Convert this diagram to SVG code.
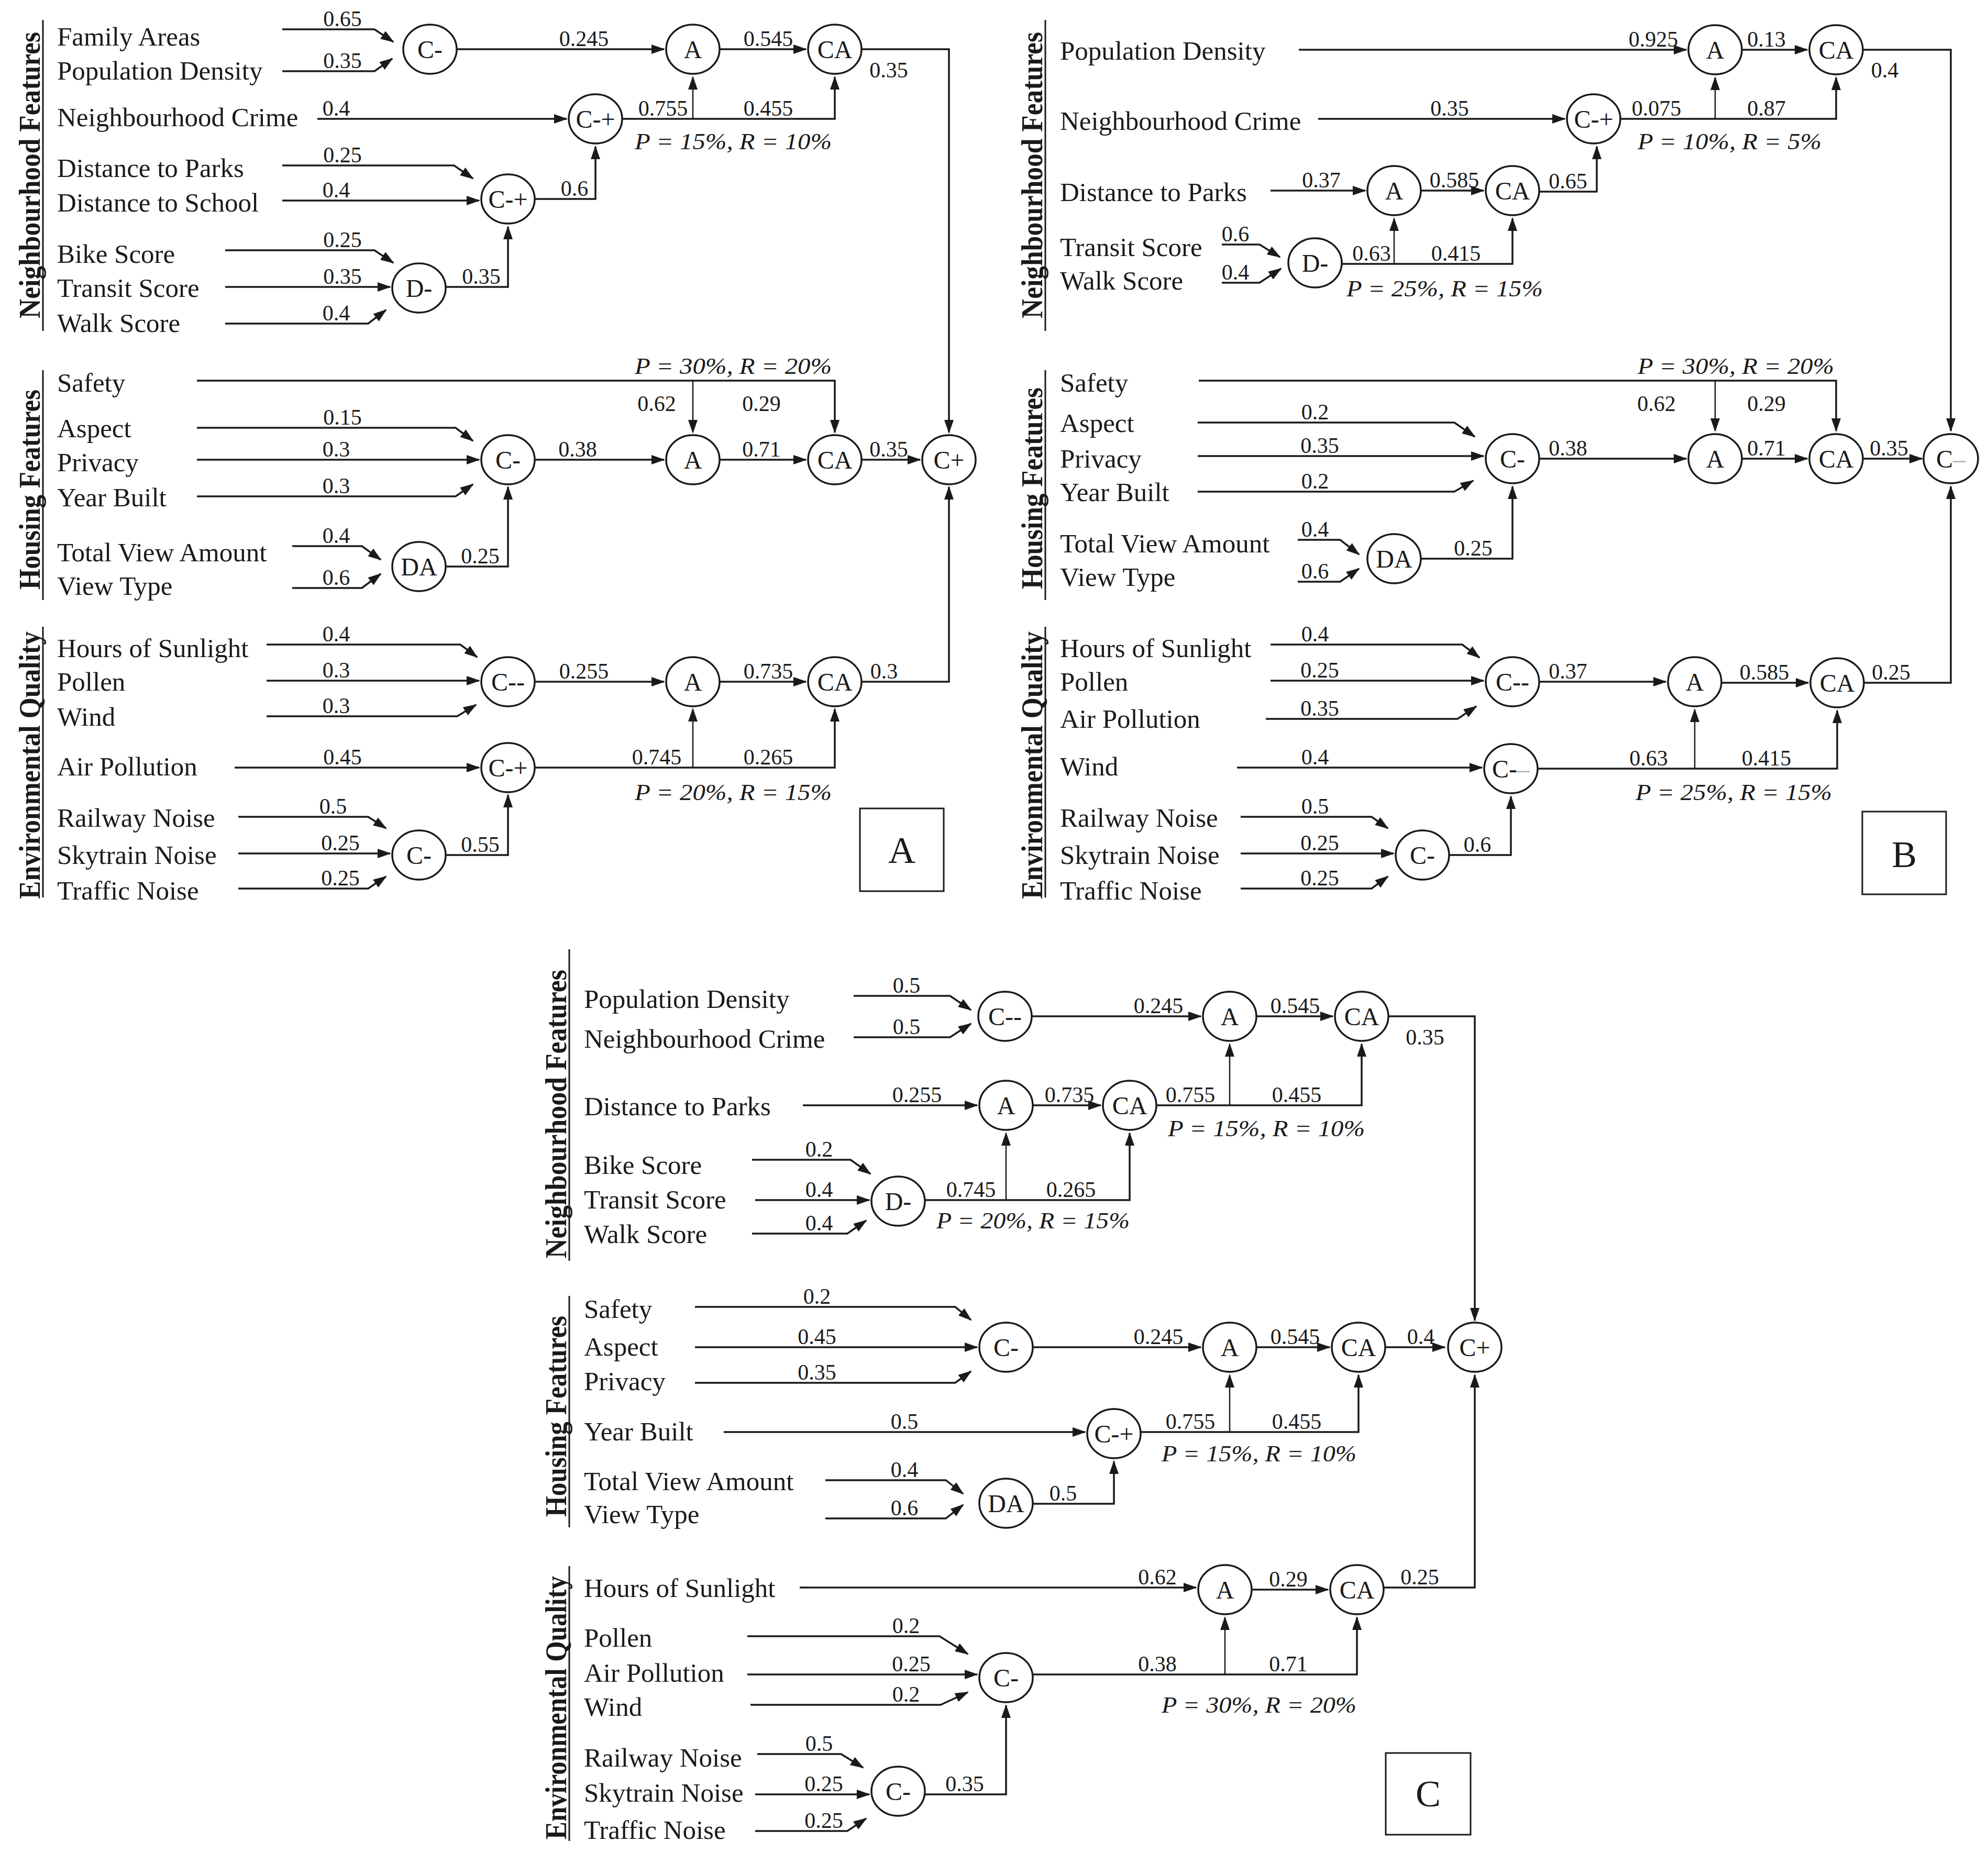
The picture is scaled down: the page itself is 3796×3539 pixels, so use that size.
<svg xmlns="http://www.w3.org/2000/svg" width="3796" height="3539" viewBox="0 0 3796 3539">
<defs>
<marker id="ah" markerUnits="userSpaceOnUse" markerWidth="26" markerHeight="18" refX="24" refY="9" orient="auto"><path d="M0,0 L26,9 L0,18 z" fill="#1a1a1a"/></marker>
<style>
text{font-family:"Liberation Serif","Times New Roman",serif;fill:#1a1a1a}
.f{font-size:51px}
.w{font-size:42px;text-anchor:middle}
.nt{font-size:48px;text-anchor:middle}
.p{font-size:44px;font-style:italic}
.s{font-size:57px;font-weight:bold}
.bl{font-size:72px;text-anchor:middle}
ellipse{fill:#fff;stroke:#1a1a1a;stroke-width:3.5}
.e{fill:none;stroke:#1a1a1a;stroke-width:3.5;marker-end:url(#ah)}
.t{fill:none;stroke:#1a1a1a;stroke-width:2.5;marker-end:url(#ah)}
.sep{stroke:#1a1a1a;stroke-width:3}
.box{fill:none;stroke:#1a1a1a;stroke-width:3}
.g{fill:#b0b0b0}
</style>
</defs>
<rect width="3796" height="3539" fill="#fff"/>

<g id="section-labels">
<line class="sep" x1="82" y1="38" x2="82" y2="632"/>
<line class="sep" x1="82" y1="707" x2="82" y2="1146"/>
<line class="sep" x1="82" y1="1197" x2="82" y2="1714"/>
<text class="s" transform="translate(76,335) rotate(-90)" x="-273" textLength="547" lengthAdjust="spacingAndGlyphs">Neighbourhood Features</text>
<text class="s" transform="translate(76,935) rotate(-90)" x="-191" textLength="382" lengthAdjust="spacingAndGlyphs">Housing Features</text>
<text class="s" transform="translate(76,1462) rotate(-90)" x="-255" textLength="511" lengthAdjust="spacingAndGlyphs">Environmental Quality</text>
<line class="sep" x1="1996" y1="38" x2="1996" y2="632"/>
<line class="sep" x1="1996" y1="707" x2="1996" y2="1146"/>
<line class="sep" x1="1996" y1="1197" x2="1996" y2="1714"/>
<text class="s" transform="translate(1990,335) rotate(-90)" x="-273" textLength="547" lengthAdjust="spacingAndGlyphs">Neighbourhood Features</text>
<text class="s" transform="translate(1990,933) rotate(-90)" x="-192" textLength="385" lengthAdjust="spacingAndGlyphs">Housing Features</text>
<text class="s" transform="translate(1990,1462) rotate(-90)" x="-255" textLength="511" lengthAdjust="spacingAndGlyphs">Environmental Quality</text>
<line class="sep" x1="1087" y1="1813" x2="1087" y2="2408"/>
<line class="sep" x1="1087" y1="2475" x2="1087" y2="2917"/>
<line class="sep" x1="1087" y1="2991" x2="1087" y2="3516"/>
<text class="s" transform="translate(1081,2128) rotate(-90)" x="-275" textLength="551" lengthAdjust="spacingAndGlyphs">Neighbourhood Features</text>
<text class="s" transform="translate(1081,2705) rotate(-90)" x="-192" textLength="384" lengthAdjust="spacingAndGlyphs">Housing Features</text>
<text class="s" transform="translate(1081,3262) rotate(-90)" x="-251" textLength="503" lengthAdjust="spacingAndGlyphs">Environmental Quality</text>
</g>

<g id="inputs-A">
<text class="f" x="109" y="87">Family Areas</text>
<text class="f" x="109" y="152">Population Density</text>
<text class="f" x="109" y="241">Neighbourhood Crime</text>
<text class="f" x="109" y="338">Distance to Parks</text>
<text class="f" x="109" y="404">Distance to School</text>
<text class="f" x="109" y="502">Bike Score</text>
<text class="f" x="109" y="567">Transit Score</text>
<text class="f" x="109" y="634">Walk Score</text>
<text class="f" x="109" y="748">Safety</text>
<text class="f" x="109" y="835">Aspect</text>
<text class="f" x="109" y="900">Privacy</text>
<text class="f" x="109" y="967">Year Built</text>
<text class="f" x="109" y="1072">Total View Amount</text>
<text class="f" x="109" y="1136">View Type</text>
<text class="f" x="109" y="1255">Hours of Sunlight</text>
<text class="f" x="109" y="1319">Pollen</text>
<text class="f" x="109" y="1386">Wind</text>
<text class="f" x="109" y="1481">Air Pollution</text>
<text class="f" x="109" y="1579">Railway Noise</text>
<text class="f" x="109" y="1650">Skytrain Noise</text>
<text class="f" x="109" y="1718">Traffic Noise</text>
</g>

<g id="inputs-B">
<text class="f" x="2024" y="114">Population Density</text>
<text class="f" x="2024" y="248">Neighbourhood Crime</text>
<text class="f" x="2024" y="384">Distance to Parks</text>
<text class="f" x="2024" y="489">Transit Score</text>
<text class="f" x="2024" y="553">Walk Score</text>
<text class="f" x="2024" y="748">Safety</text>
<text class="f" x="2024" y="825">Aspect</text>
<text class="f" x="2024" y="893">Privacy</text>
<text class="f" x="2024" y="957">Year Built</text>
<text class="f" x="2024" y="1055">Total View Amount</text>
<text class="f" x="2024" y="1119">View Type</text>
<text class="f" x="2024" y="1255">Hours of Sunlight</text>
<text class="f" x="2024" y="1319">Pollen</text>
<text class="f" x="2024" y="1390">Air Pollution</text>
<text class="f" x="2024" y="1481">Wind</text>
<text class="f" x="2024" y="1579">Railway Noise</text>
<text class="f" x="2024" y="1650">Skytrain Noise</text>
<text class="f" x="2024" y="1718">Traffic Noise</text>
</g>

<g id="inputs-C">
<text class="f" x="1115" y="1925">Population Density</text>
<text class="f" x="1115" y="2001">Neighbourhood Crime</text>
<text class="f" x="1115" y="2130">Distance to Parks</text>
<text class="f" x="1115" y="2242">Bike Score</text>
<text class="f" x="1115" y="2308">Transit Score</text>
<text class="f" x="1115" y="2374">Walk Score</text>
<text class="f" x="1115" y="2517">Safety</text>
<text class="f" x="1115" y="2589">Aspect</text>
<text class="f" x="1115" y="2655">Privacy</text>
<text class="f" x="1115" y="2751">Year Built</text>
<text class="f" x="1115" y="2846">Total View Amount</text>
<text class="f" x="1115" y="2909">View Type</text>
<text class="f" x="1115" y="3050">Hours of Sunlight</text>
<text class="f" x="1115" y="3145">Pollen</text>
<text class="f" x="1115" y="3212">Air Pollution</text>
<text class="f" x="1115" y="3277">Wind</text>
<text class="f" x="1115" y="3374">Railway Noise</text>
<text class="f" x="1115" y="3441">Skytrain Noise</text>
<text class="f" x="1115" y="3512">Traffic Noise</text>
</g>

<g id="connectors">
<path class="e" d="M539,56 H715 L751,80"/>
<path class="e" d="M539,136 H715 L749,112"/>
<path class="e" d="M873,94 H1268"/>
<path class="e" d="M1374,94 H1539"/>
<path class="e" d="M1645,94 H1812 V826"/>
<path class="e" d="M606,227 H1082"/>
<path class="e" d="M1188,227 H1594 V147"/>
<path class="t" d="M1323,227 V147"/>
<path class="e" d="M539,316 H867 L903,341"/>
<path class="e" d="M539,383 H915"/>
<path class="e" d="M1021,380 H1137 V280"/>
<path class="e" d="M430,478 H715 L751,502"/>
<path class="e" d="M430,548 H745"/>
<path class="e" d="M430,618 H703 L737,592"/>
<path class="e" d="M851,548 H970 V433"/>
<path class="e" d="M376,727 H1594 V826"/>
<path class="t" d="M1323,727 V826"/>
<path class="e" d="M376,817 H870 L903,842"/>
<path class="e" d="M376,878 H915"/>
<path class="e" d="M376,948 H870 L903,925"/>
<path class="e" d="M1021,878 H1268"/>
<path class="e" d="M1374,878 H1539"/>
<path class="e" d="M1645,878 H1757"/>
<path class="e" d="M558,1043 H691 L727,1069"/>
<path class="e" d="M558,1123 H691 L727,1096"/>
<path class="e" d="M851,1082 H970 V930"/>
<path class="e" d="M509,1231 H879 L911,1255"/>
<path class="e" d="M509,1300 H915"/>
<path class="e" d="M509,1368 H873 L909,1346"/>
<path class="e" d="M1021,1302 H1268"/>
<path class="e" d="M1374,1302 H1539"/>
<path class="e" d="M1645,1302 H1812 V930"/>
<path class="e" d="M448,1466 H915"/>
<path class="e" d="M1021,1466 H1594 V1354"/>
<path class="t" d="M1323,1466 V1354"/>
<path class="e" d="M455,1560 H703 L737,1582"/>
<path class="e" d="M455,1630 H745"/>
<path class="e" d="M455,1697 H703 L737,1674"/>
<path class="e" d="M851,1633 H970 V1518"/>

<path class="e" d="M2480,95 H3220"/>
<path class="e" d="M3326,95 H3451"/>
<path class="e" d="M3557,95 H3725 V823"/>
<path class="e" d="M2517,227 H2988"/>
<path class="e" d="M3094,227 H3506 V148"/>
<path class="t" d="M3275,227 V148"/>
<path class="e" d="M2426,364 H2607"/>
<path class="e" d="M2713,364 H2833"/>
<path class="e" d="M2939,366 H3049 V280"/>
<path class="e" d="M2333,467 H2405 L2444,491"/>
<path class="e" d="M2333,540 H2405 L2446,513"/>
<path class="e" d="M2562,504 H2888 V417"/>
<path class="t" d="M2662,504 V417"/>
<path class="e" d="M2289,727 H3506 V823"/>
<path class="t" d="M3275,727 V823"/>
<path class="e" d="M2287,807 H2777 L2816,834"/>
<path class="e" d="M2287,871 H2833"/>
<path class="e" d="M2287,939 H2777 L2813,918"/>
<path class="e" d="M2939,876 H3220"/>
<path class="e" d="M3326,876 H3451"/>
<path class="e" d="M3557,876 H3670"/>
<path class="e" d="M2478,1031 H2559 L2595,1059"/>
<path class="e" d="M2478,1111 H2559 L2595,1086"/>
<path class="e" d="M2713,1067 H2888 V929"/>
<path class="e" d="M2426,1231 H2792 L2825,1256"/>
<path class="e" d="M2426,1300 H2833"/>
<path class="e" d="M2417,1373 H2783 L2819,1349"/>
<path class="e" d="M2939,1302 H3181"/>
<path class="e" d="M3287,1304 H3453"/>
<path class="e" d="M3559,1304 H3725 V929"/>
<path class="e" d="M2362,1466 H2830"/>
<path class="e" d="M2936,1468 H3508 V1357"/>
<path class="t" d="M3236,1468 V1355"/>
<path class="e" d="M2369,1560 H2619 L2650,1582"/>
<path class="e" d="M2369,1630 H2661"/>
<path class="e" d="M2369,1697 H2619 L2650,1674"/>
<path class="e" d="M2767,1633 H2885 V1521"/>

<path class="e" d="M1630,1902 H1814 L1854,1929"/>
<path class="e" d="M1630,1981 H1814 L1854,1955"/>
<path class="e" d="M1970,1941 H2293"/>
<path class="e" d="M2399,1941 H2545"/>
<path class="e" d="M2651,1941 H2816 V2522"/>
<path class="e" d="M1533,2111 H1866"/>
<path class="e" d="M1972,2111 H2102"/>
<path class="e" d="M2208,2111 H2600 V1994"/>
<path class="t" d="M2348,2111 V1994"/>
<path class="e" d="M1436,2215 H1624 L1662,2242"/>
<path class="e" d="M1442,2292 H1660"/>
<path class="e" d="M1436,2356 H1618 L1654,2331"/>
<path class="e" d="M1766,2292 H2157 V2164"/>
<path class="t" d="M1921,2292 V2164"/>
<path class="e" d="M1327,2496 H1824 L1854,2521"/>
<path class="e" d="M1327,2573 H1866"/>
<path class="e" d="M1327,2641 H1824 L1854,2619"/>
<path class="e" d="M1972,2573 H2293"/>
<path class="e" d="M2399,2573 H2539"/>
<path class="e" d="M2645,2573 H2759"/>
<path class="e" d="M1382,2735 H2072"/>
<path class="e" d="M2178,2735 H2594 V2626"/>
<path class="t" d="M2348,2735 V2626"/>
<path class="e" d="M1576,2827 H1806 L1839,2853"/>
<path class="e" d="M1576,2900 H1806 L1839,2874"/>
<path class="e" d="M1972,2872 H2127 V2791"/>
<path class="e" d="M1527,3032 H2284"/>
<path class="e" d="M2390,3036 H2536"/>
<path class="e" d="M2642,3032 H2816 V2626"/>
<path class="e" d="M1427,3125 H1794 L1848,3159"/>
<path class="e" d="M1427,3198 H1866"/>
<path class="e" d="M1433,3256 H1796 L1848,3232"/>
<path class="e" d="M1972,3198 H2591 V3089"/>
<path class="t" d="M2339,3198 V3089"/>
<path class="e" d="M1446,3350 H1606 L1648,3376"/>
<path class="e" d="M1442,3427 H1660"/>
<path class="e" d="M1442,3497 H1618 L1654,3473"/>
<path class="e" d="M1766,3427 H1921 V3257"/>
</g>

<g id="edge-labels">
<text class="w" x="654" y="50">0.65</text>
<text class="w" x="654" y="130">0.35</text>
<text class="w" x="1115" y="88">0.245</text>
<text class="w" x="1467" y="88">0.545</text>
<text class="w" x="1697" y="148">0.35</text>
<text class="w" x="642" y="221">0.4</text>
<text class="w" x="1266" y="221">0.755</text>
<text class="w" x="1467" y="221">0.455</text>
<text class="w" x="654" y="310">0.25</text>
<text class="w" x="642" y="377">0.4</text>
<text class="w" x="1097" y="374">0.6</text>
<text class="w" x="654" y="472">0.25</text>
<text class="w" x="654" y="542">0.35</text>
<text class="w" x="642" y="612">0.4</text>
<text class="w" x="919" y="542">0.35</text>
<text class="w" x="1254" y="785">0.62</text>
<text class="w" x="1454" y="785">0.29</text>
<text class="w" x="654" y="811">0.15</text>
<text class="w" x="642" y="872">0.3</text>
<text class="w" x="642" y="942">0.3</text>
<text class="w" x="1103" y="872">0.38</text>
<text class="w" x="1454" y="872">0.71</text>
<text class="w" x="1697" y="872">0.35</text>
<text class="w" x="642" y="1037">0.4</text>
<text class="w" x="642" y="1117">0.6</text>
<text class="w" x="917" y="1076">0.25</text>
<text class="w" x="642" y="1225">0.4</text>
<text class="w" x="642" y="1294">0.3</text>
<text class="w" x="642" y="1362">0.3</text>
<text class="w" x="1115" y="1296">0.255</text>
<text class="w" x="1467" y="1296">0.735</text>
<text class="w" x="1688" y="1296">0.3</text>
<text class="w" x="654" y="1460">0.45</text>
<text class="w" x="1254" y="1460">0.745</text>
<text class="w" x="1467" y="1460">0.265</text>
<text class="w" x="636" y="1554">0.5</text>
<text class="w" x="650" y="1624">0.25</text>
<text class="w" x="650" y="1691">0.25</text>
<text class="w" x="917" y="1627">0.55</text>

<text class="w" x="3157" y="89">0.925</text>
<text class="w" x="3373" y="89">0.13</text>
<text class="w" x="3599" y="148">0.4</text>
<text class="w" x="2768" y="221">0.35</text>
<text class="w" x="3163" y="221">0.075</text>
<text class="w" x="3373" y="221">0.87</text>
<text class="w" x="2523" y="358">0.37</text>
<text class="w" x="2777" y="358">0.585</text>
<text class="w" x="2994" y="360">0.65</text>
<text class="w" x="2359" y="461">0.6</text>
<text class="w" x="2359" y="534">0.4</text>
<text class="w" x="2619" y="498">0.63</text>
<text class="w" x="2780" y="498">0.415</text>
<text class="w" x="3163" y="785">0.62</text>
<text class="w" x="3373" y="785">0.29</text>
<text class="w" x="2511" y="801">0.2</text>
<text class="w" x="2520" y="865">0.35</text>
<text class="w" x="2511" y="933">0.2</text>
<text class="w" x="2994" y="870">0.38</text>
<text class="w" x="3373" y="870">0.71</text>
<text class="w" x="3607" y="870">0.35</text>
<text class="w" x="2511" y="1025">0.4</text>
<text class="w" x="2511" y="1105">0.6</text>
<text class="w" x="2813" y="1061">0.25</text>
<text class="w" x="2511" y="1225">0.4</text>
<text class="w" x="2520" y="1294">0.25</text>
<text class="w" x="2520" y="1367">0.35</text>
<text class="w" x="2994" y="1296">0.37</text>
<text class="w" x="3369" y="1298">0.585</text>
<text class="w" x="3611" y="1298">0.25</text>
<text class="w" x="2511" y="1460">0.4</text>
<text class="w" x="3148" y="1462">0.63</text>
<text class="w" x="3373" y="1462">0.415</text>
<text class="w" x="2511" y="1554">0.5</text>
<text class="w" x="2520" y="1624">0.25</text>
<text class="w" x="2520" y="1691">0.25</text>
<text class="w" x="2821" y="1627">0.6</text>

<text class="w" x="1731" y="1896">0.5</text>
<text class="w" x="1731" y="1975">0.5</text>
<text class="w" x="2212" y="1935">0.245</text>
<text class="w" x="2473" y="1935">0.545</text>
<text class="w" x="2721" y="1995">0.35</text>
<text class="w" x="1751" y="2105">0.255</text>
<text class="w" x="2042" y="2105">0.735</text>
<text class="w" x="2273" y="2105">0.755</text>
<text class="w" x="2476" y="2105">0.455</text>
<text class="w" x="1564" y="2209">0.2</text>
<text class="w" x="1564" y="2286">0.4</text>
<text class="w" x="1564" y="2350">0.4</text>
<text class="w" x="1854" y="2286">0.745</text>
<text class="w" x="2045" y="2286">0.265</text>
<text class="w" x="1560" y="2490">0.2</text>
<text class="w" x="1560" y="2567">0.45</text>
<text class="w" x="1560" y="2635">0.35</text>
<text class="w" x="2212" y="2567">0.245</text>
<text class="w" x="2473" y="2567">0.545</text>
<text class="w" x="2713" y="2567">0.4</text>
<text class="w" x="1727" y="2729">0.5</text>
<text class="w" x="2273" y="2729">0.755</text>
<text class="w" x="2476" y="2729">0.455</text>
<text class="w" x="1727" y="2821">0.4</text>
<text class="w" x="1727" y="2894">0.6</text>
<text class="w" x="2030" y="2866">0.5</text>
<text class="w" x="2210" y="3026">0.62</text>
<text class="w" x="2460" y="3030">0.29</text>
<text class="w" x="2711" y="3026">0.25</text>
<text class="w" x="1730" y="3119">0.2</text>
<text class="w" x="1740" y="3192">0.25</text>
<text class="w" x="1730" y="3250">0.2</text>
<text class="w" x="2210" y="3192">0.38</text>
<text class="w" x="2460" y="3192">0.71</text>
<text class="w" x="1564" y="3344">0.5</text>
<text class="w" x="1573" y="3421">0.25</text>
<text class="w" x="1573" y="3491">0.25</text>
<text class="w" x="1842" y="3421">0.35</text>
</g>

<g id="pr-labels">
<text class="p" x="1212" y="285" textLength="376" lengthAdjust="spacingAndGlyphs">P = 15%, R = 10%</text>
<text class="p" x="1212" y="714" textLength="376" lengthAdjust="spacingAndGlyphs">P = 30%, R = 20%</text>
<text class="p" x="1212" y="1528" textLength="376" lengthAdjust="spacingAndGlyphs">P = 20%, R = 15%</text>
<text class="p" x="3127" y="285" textLength="351" lengthAdjust="spacingAndGlyphs">P = 10%, R = 5%</text>
<text class="p" x="2571" y="566" textLength="375" lengthAdjust="spacingAndGlyphs">P = 25%, R = 15%</text>
<text class="p" x="3127" y="714" textLength="375" lengthAdjust="spacingAndGlyphs">P = 30%, R = 20%</text>
<text class="p" x="3123" y="1528" textLength="375" lengthAdjust="spacingAndGlyphs">P = 25%, R = 15%</text>
<text class="p" x="2230" y="2170" textLength="376" lengthAdjust="spacingAndGlyphs">P = 15%, R = 10%</text>
<text class="p" x="1788" y="2346" textLength="369" lengthAdjust="spacingAndGlyphs">P = 20%, R = 15%</text>
<text class="p" x="2218" y="2791" textLength="372" lengthAdjust="spacingAndGlyphs">P = 15%, R = 10%</text>
<text class="p" x="2218" y="3271" textLength="372" lengthAdjust="spacingAndGlyphs">P = 30%, R = 20%</text>
</g>

<g id="A-n1"><ellipse cx="821" cy="94" rx="51" ry="47"/><text class="nt" x="821" y="111">C-</text></g>
<g id="A-n2"><ellipse cx="1323" cy="94" rx="51" ry="47"/><text class="nt" x="1323" y="111">A</text></g>
<g id="A-n3"><ellipse cx="1594" cy="94" rx="51" ry="47"/><text class="nt" x="1594" y="111">CA</text></g>
<g id="A-n4"><ellipse cx="1137" cy="227" rx="51" ry="47"/><text class="nt" x="1137" y="244">C-+</text></g>
<g id="A-n5"><ellipse cx="970" cy="380" rx="51" ry="47"/><text class="nt" x="970" y="397">C-+</text></g>
<g id="A-n6"><ellipse cx="800" cy="550" rx="51" ry="47"/><text class="nt" x="800" y="567">D-</text></g>
<g id="A-n7"><ellipse cx="970" cy="878" rx="51" ry="47"/><text class="nt" x="970" y="895">C-</text></g>
<g id="A-n8"><ellipse cx="1323" cy="878" rx="51" ry="47"/><text class="nt" x="1323" y="895">A</text></g>
<g id="A-n9"><ellipse cx="1594" cy="878" rx="51" ry="47"/><text class="nt" x="1594" y="895">CA</text></g>
<g id="A-n10"><ellipse cx="1812" cy="878" rx="51" ry="47"/><text class="nt" x="1812" y="895">C+</text></g>
<g id="A-n11"><ellipse cx="800" cy="1082" rx="51" ry="47"/><text class="nt" x="800" y="1099">DA</text></g>
<g id="A-n12"><ellipse cx="970" cy="1302" rx="51" ry="47"/><text class="nt" x="970" y="1319">C--</text></g>
<g id="A-n13"><ellipse cx="1323" cy="1302" rx="51" ry="47"/><text class="nt" x="1323" y="1319">A</text></g>
<g id="A-n14"><ellipse cx="1594" cy="1302" rx="51" ry="47"/><text class="nt" x="1594" y="1319">CA</text></g>
<g id="A-n15"><ellipse cx="970" cy="1466" rx="51" ry="47"/><text class="nt" x="970" y="1483">C-+</text></g>
<g id="A-n16"><ellipse cx="800" cy="1633" rx="51" ry="47"/><text class="nt" x="800" y="1650">C-</text></g>
<g id="A-box"><rect class="box" x="1642" y="1544" width="160" height="158"/><text class="bl" x="1722" y="1648">A</text></g>

<g id="B-n1"><ellipse cx="3275" cy="95" rx="51" ry="47"/><text class="nt" x="3275" y="112">A</text></g>
<g id="B-n2"><ellipse cx="3506" cy="95" rx="51" ry="47"/><text class="nt" x="3506" y="112">CA</text></g>
<g id="B-n3"><ellipse cx="3043" cy="227" rx="51" ry="47"/><text class="nt" x="3043" y="244">C-+</text></g>
<g id="B-n4"><ellipse cx="2662" cy="364" rx="51" ry="47"/><text class="nt" x="2662" y="381">A</text></g>
<g id="B-n5"><ellipse cx="2888" cy="364" rx="51" ry="47"/><text class="nt" x="2888" y="381">CA</text></g>
<g id="B-n6"><ellipse cx="2511" cy="502" rx="51" ry="47"/><text class="nt" x="2511" y="519">D-</text></g>
<g id="B-n7"><ellipse cx="2888" cy="876" rx="51" ry="47"/><text class="nt" x="2888" y="893">C-</text></g>
<g id="B-n8"><ellipse cx="3275" cy="876" rx="51" ry="47"/><text class="nt" x="3275" y="893">A</text></g>
<g id="B-n9"><ellipse cx="3506" cy="876" rx="51" ry="47"/><text class="nt" x="3506" y="893">CA</text></g>
<g id="B-n10"><ellipse cx="3725" cy="876" rx="52" ry="47"/><text class="nt" x="3725" y="893">C<tspan class="g">–</tspan></text></g>
<g id="B-n11"><ellipse cx="2662" cy="1067" rx="51" ry="47"/><text class="nt" x="2662" y="1084">DA</text></g>
<g id="B-n12"><ellipse cx="2888" cy="1302" rx="51" ry="47"/><text class="nt" x="2888" y="1319">C--</text></g>
<g id="B-n13"><ellipse cx="3236" cy="1302" rx="51" ry="47"/><text class="nt" x="3236" y="1319">A</text></g>
<g id="B-n14"><ellipse cx="3508" cy="1304" rx="51" ry="47"/><text class="nt" x="3508" y="1321">CA</text></g>
<g id="B-n15"><ellipse cx="2885" cy="1468" rx="51" ry="47"/><text class="nt" x="2885" y="1485">C-<tspan class="g">–</tspan></text></g>
<g id="B-n16"><ellipse cx="2716" cy="1633" rx="51" ry="47"/><text class="nt" x="2716" y="1650">C-</text></g>
<g id="B-box"><rect class="box" x="3556" y="1550" width="160" height="158"/><text class="bl" x="3636" y="1656">B</text></g>

<g id="C-n1"><ellipse cx="1919" cy="1941" rx="51" ry="47"/><text class="nt" x="1919" y="1958">C--</text></g>
<g id="C-n2"><ellipse cx="2348" cy="1941" rx="51" ry="47"/><text class="nt" x="2348" y="1958">A</text></g>
<g id="C-n3"><ellipse cx="2600" cy="1941" rx="51" ry="47"/><text class="nt" x="2600" y="1958">CA</text></g>
<g id="C-n4"><ellipse cx="1921" cy="2111" rx="51" ry="47"/><text class="nt" x="1921" y="2128">A</text></g>
<g id="C-n5"><ellipse cx="2157" cy="2111" rx="51" ry="47"/><text class="nt" x="2157" y="2128">CA</text></g>
<g id="C-n6"><ellipse cx="1715" cy="2294" rx="51" ry="47"/><text class="nt" x="1715" y="2311">D-</text></g>
<g id="C-n7"><ellipse cx="1921" cy="2573" rx="51" ry="47"/><text class="nt" x="1921" y="2590">C-</text></g>
<g id="C-n8"><ellipse cx="2348" cy="2573" rx="51" ry="47"/><text class="nt" x="2348" y="2590">A</text></g>
<g id="C-n9"><ellipse cx="2594" cy="2573" rx="51" ry="47"/><text class="nt" x="2594" y="2590">CA</text></g>
<g id="C-n10"><ellipse cx="2816" cy="2573" rx="51" ry="47"/><text class="nt" x="2816" y="2590">C+</text></g>
<g id="C-n11"><ellipse cx="2127" cy="2738" rx="51" ry="47"/><text class="nt" x="2127" y="2755">C-+</text></g>
<g id="C-n12"><ellipse cx="1921" cy="2871" rx="51" ry="47"/><text class="nt" x="1921" y="2888">DA</text></g>
<g id="C-n13"><ellipse cx="2339" cy="3036" rx="51" ry="47"/><text class="nt" x="2339" y="3053">A</text></g>
<g id="C-n14"><ellipse cx="2591" cy="3036" rx="51" ry="47"/><text class="nt" x="2591" y="3053">CA</text></g>
<g id="C-n15"><ellipse cx="1921" cy="3204" rx="51" ry="47"/><text class="nt" x="1921" y="3221">C-</text></g>
<g id="C-n16"><ellipse cx="1715" cy="3421" rx="51" ry="47"/><text class="nt" x="1715" y="3438">C-</text></g>
<g id="C-box"><rect class="box" x="2646" y="3348" width="162" height="156"/><text class="bl" x="2727" y="3450">C</text></g>
</svg>
